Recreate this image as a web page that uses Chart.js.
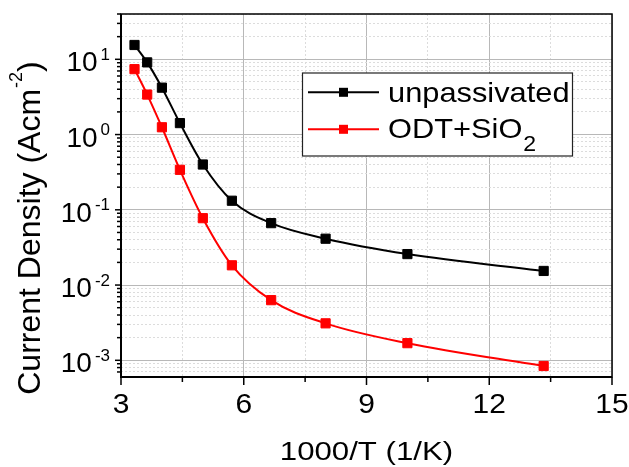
<!DOCTYPE html>
<html>
<head>
<meta charset="utf-8">
<script src="https://cdn.jsdelivr.net/npm/chart.js@4.4.0/dist/chart.umd.min.js"></script>
<style>
  html, body { margin: 0; padding: 0; background: #fff; }
  #wrap { width: 629px; height: 467px; }
</style>
</head>
<body>
<div id="wrap"><canvas id="jChart" width="629" height="467"></canvas></div>
<script>
// 1000/T (1/K)
const inverseTemp = [3.33, 3.64, 4.0, 4.44, 5.0, 5.71, 6.67, 8.0, 10.0, 13.33];
const unpassivated = [15.5, 9.1, 4.2, 1.42, 0.40, 0.132, 0.0665, 0.0413, 0.0258, 0.0154];
const odtSiO2 = [7.4, 3.4, 1.25, 0.34, 0.0774, 0.0183, 0.0063, 0.0031, 0.00169, 0.00084];

const seriesNames = ['unpassivated', 'ODT+SiO'];
const seriesSubs = ['', '2'];
const seriesColors = ['#000000', '#ff0000'];

const xTicks = [3, 6, 9, 12, 15];
const xMinorTicks = [4.5, 7.5, 10.5, 13.5];
const yDecades = [0.001, 0.01, 0.1, 1, 10];
const yExponents = ['-3', '-2', '-1', '0', '1'];
const yMantissas = [2, 3, 4, 5, 6, 7, 8, 9];

const FONT = "'Liberation Sans', Arial, sans-serif";
const Y_MIN = 0.00062, Y_MAX = 40;

function isMajorY(v) {
  const l = Math.log10(v);
  return Math.abs(l - Math.round(l)) < 1e-6;
}

function stretchText(ctx, text, x, y, size, sx, align) {
  ctx.save();
  ctx.font = size + 'px ' + FONT;
  ctx.translate(x, y);
  ctx.scale(sx, 1);
  ctx.textAlign = align;
  ctx.textBaseline = 'alphabetic';
  ctx.fillText(text, 0, 0);
  ctx.restore();
}

const decorPlugin = {
  id: 'decor',
  afterDraw(chart) {
    const ctx = chart.ctx;
    const area = chart.chartArea;
    const xs = chart.scales.x;
    const ys = chart.scales.y;
    ctx.save();
    ctx.fillStyle = '#000';
    ctx.strokeStyle = '#000';

    // frame
    ctx.lineWidth = 1.5;
    ctx.strokeRect(area.left, area.top, area.right - area.left, area.bottom - area.top);
    ctx.lineWidth = 2;
    ctx.beginPath();
    ctx.moveTo(area.left, area.top);
    ctx.lineTo(area.left, area.bottom);
    ctx.lineTo(area.right, area.bottom);
    ctx.stroke();

    // tick marks
    ctx.lineWidth = 1.5;
    xs.ticks.forEach(t => {
      const px = xs.getPixelForValue(t.value);
      const len = xTicks.includes(t.value) ? 8 : 5;
      ctx.beginPath();
      ctx.moveTo(px, area.bottom);
      ctx.lineTo(px, area.bottom + len);
      ctx.stroke();
    });
    ys.ticks.forEach(t => {
      const py = ys.getPixelForValue(t.value);
      const len = isMajorY(t.value) ? 6 : 4;
      ctx.beginPath();
      ctx.moveTo(area.left - len, py);
      ctx.lineTo(area.left, py);
      ctx.stroke();
    });

    // x tick labels
    xTicks.forEach(v => {
      stretchText(ctx, String(v), xs.getPixelForValue(v), 413, 28, 1.07, 'center');
    });

    // y tick labels 10^n
    yDecades.forEach((v, i) => {
      const py = ys.getPixelForValue(v);
      ctx.font = '17px ' + FONT;
      const supW = ctx.measureText(yExponents[i]).width;
      stretchText(ctx, yExponents[i], 110, py + 0.5, 17, 1, 'right');
      stretchText(ctx, '10', 110 - supW - 3, py + 12, 28, 1, 'right');
    });

    // x title
    stretchText(ctx, '1000/T (1/K)', (area.left + area.right) / 2, 459.5, 26, 1.2, 'center');

    // y title
    ctx.save();
    ctx.translate(39.5, 228.5);
    ctx.rotate(-Math.PI / 2);
    ctx.font = '32px ' + FONT;
    const p1 = 'Current Density (Acm';
    const p3 = ')';
    const w1 = ctx.measureText(p1).width;
    const w3 = ctx.measureText(p3).width;
    ctx.font = '18px ' + FONT;
    const w2 = ctx.measureText('-2').width;
    let start = -(w1 + w2 + w3) / 2;
    ctx.textAlign = 'left';
    ctx.font = '32px ' + FONT;
    ctx.fillText(p1, start, 0);
    ctx.font = '18px ' + FONT;
    ctx.fillText('-2', start + w1 + 1, -18);
    ctx.font = '32px ' + FONT;
    ctx.fillText(p3, start + w1 + w2 + 1, 0);
    ctx.restore();

    // legend box
    const bx = 302.5, by = 73, bw = 270, bh = 83;
    ctx.fillStyle = '#fff';
    ctx.fillRect(bx, by, bw, bh);
    ctx.strokeStyle = '#222';
    ctx.lineWidth = 1.2;
    ctx.strokeRect(bx, by, bw, bh);
    const rows = [92.3, 129.3];
    const baselines = [101.7, 138.3];
    seriesNames.forEach((name, i) => {
      ctx.strokeStyle = seriesColors[i];
      ctx.fillStyle = seriesColors[i];
      ctx.lineWidth = 2;
      ctx.beginPath();
      ctx.moveTo(308, rows[i]);
      ctx.lineTo(379, rows[i]);
      ctx.stroke();
      ctx.fillRect(343.5 - 4.5, rows[i] - 4.5, 9, 9);
      ctx.fillStyle = '#000';
      stretchText(ctx, name, 388, baselines[i], 28, 1.1, 'left');
      if (seriesSubs[i]) {
        ctx.font = '28px ' + FONT;
        const w = ctx.measureText(name).width * 1.1;
        stretchText(ctx, seriesSubs[i], 388 + w + 1, 150.5, 22, 1.05, 'left');
      }
    });
    ctx.restore();
  }
};

function makeDataset(values, idx) {
  return {
    label: seriesNames[idx] + seriesSubs[idx],
    data: inverseTemp.map((x, i) => ({ x: x, y: values[i] })),
    borderColor: seriesColors[idx],
    backgroundColor: seriesColors[idx],
    borderWidth: 2,
    pointStyle: 'rect',
    pointRadius: 6.5,
    pointBorderWidth: 1,
    cubicInterpolationMode: 'monotone'
  };
}

function renderChart() {
  const ctx = document.getElementById('jChart').getContext('2d');
  window.jChartInstance = new Chart(ctx, {
    type: 'line',
    data: {
      datasets: [makeDataset(unpassivated, 0), makeDataset(odtSiO2, 1)]
    },
    options: {
      responsive: false,
      animation: false,
      devicePixelRatio: 1,
      layout: { padding: { left: 0, top: 14, right: 17, bottom: 0 } },
      plugins: { legend: { display: false }, tooltip: { enabled: false } },
      scales: {
        x: {
          type: 'linear',
          min: 3,
          max: 15,
          afterBuildTicks: scale => {
            scale.ticks = xTicks.concat(xMinorTicks).sort((a, b) => a - b).map(v => ({ value: v }));
          },
          afterFit: scale => { scale.height = 90; },
          ticks: { display: false },
          grid: {
            drawTicks: false,
            lineWidth: 1,
            color: c => (c.tick && xTicks.includes(c.tick.value)) ? '#b8b8b8' : '#dcdcdc'
          },
          border: {
            display: false,
            dash: c => (c.tick && xTicks.includes(c.tick.value)) ? [] : [2, 2]
          }
        },
        y: {
          type: 'logarithmic',
          min: Y_MIN,
          max: Y_MAX,
          afterBuildTicks: scale => {
            const vals = [];
            [0.0001].concat(yDecades).forEach(d => {
              if (d >= Y_MIN && d <= Y_MAX) vals.push(d);
              yMantissas.forEach(m => {
                const v = d * m;
                if (v >= Y_MIN && v <= Y_MAX) vals.push(v);
              });
            });
            scale.ticks = vals.sort((a, b) => a - b).map(v => ({ value: v }));
          },
          afterFit: scale => { scale.width = 121; },
          ticks: { display: false },
          grid: {
            drawTicks: false,
            lineWidth: 1,
            color: c => (c.tick && isMajorY(c.tick.value)) ? '#b8b8b8' : '#dcdcdc'
          },
          border: {
            display: false,
            dash: c => (c.tick && isMajorY(c.tick.value)) ? [] : [2, 2]
          }
        }
      }
    },
    plugins: [decorPlugin]
  });
}

renderChart();
</script>
</body>
</html>
